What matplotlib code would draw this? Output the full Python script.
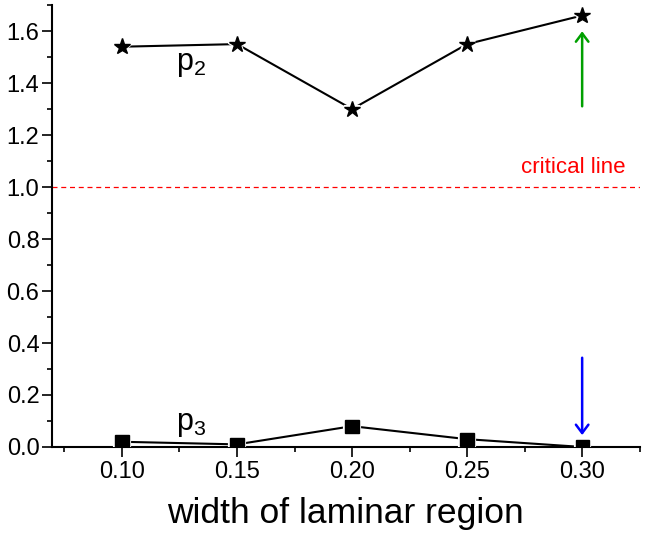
import numpy as np
import matplotlib.pyplot as plt
import matplotlib.patheffects as pe

plt.rcParams['font.family'] = ['Liberation Sans', 'DejaVu Sans']
plt.rcParams['mathtext.fontset'] = 'custom'
plt.rcParams['mathtext.rm'] = 'Liberation Sans'
plt.rcParams['mathtext.it'] = 'Liberation Sans'

# data
width = [0.10, 0.15, 0.20, 0.25, 0.30]
p2 = [1.54, 1.55, 1.30, 1.55, 1.66]
p3 = [0.02, 0.01, 0.08, 0.03, 0.00]
critical = 1.0

fig = plt.figure(figsize=(6.53, 5.33), dpi=100)
ax = fig.add_axes([0.0796, 0.1614, 0.900, 0.829])

# lines first, markers on top with a white halo (gap between line and symbol)
halo = [pe.Stroke(linewidth=3, foreground='white'), pe.Normal()]
ax.plot(width, p2, '-k', lw=1.5, zorder=2)
ax.plot(width, p2, 'k*', ms=12, zorder=3, path_effects=halo)
ax.plot(width, p3, '-k', lw=1.5, zorder=2)
ax.plot(width, p3, 'ks', ms=9.5, zorder=3, path_effects=halo)

ax.axhline(critical, color='red', ls=(0, (4, 3)), lw=0.9, zorder=1)
ax.text(0.296, 1.054, 'critical line', color='red', fontsize=16, ha='center')

ax.text(0.130, 1.45, r'$\mathrm{p_2}$', fontsize=22, ha='center')
ax.text(0.130, 0.065, r'$\mathrm{p_3}$', fontsize=22, ha='center')

ax.annotate('', xy=(width[4], 1.61), xytext=(width[4], 1.30),
            arrowprops=dict(arrowstyle='->,head_length=0.6,head_width=0.45', color='#00a000', lw=1.8))
ax.annotate('', xy=(width[4], 0.035), xytext=(width[4], 0.354),
            arrowprops=dict(arrowstyle='->,head_length=0.6,head_width=0.45', color='blue', lw=1.8))

ax.set_xlim(0.0696, 0.3247)
ax.set_ylim(0, 1.70)
ax.set_xticks([0.10, 0.15, 0.20, 0.25, 0.30])
ax.set_xticks(np.arange(0.075, 0.33, 0.05), minor=True)
ax.set_yticks(np.arange(0, 1.61, 0.2))
ax.set_yticks(np.arange(0.1, 1.71, 0.2), minor=True)
ax.set_yticklabels(['%.1f' % v for v in np.arange(0, 1.61, 0.2)])
ax.set_xticklabels(['%.2f' % v for v in width])

for s in ['top', 'right']:
    ax.spines[s].set_visible(False)
for s in ['left', 'bottom']:
    ax.spines[s].set_linewidth(1.5)
ax.tick_params(which='both', direction='out', width=1.2)
ax.tick_params(which='major', length=7)
ax.tick_params(which='minor', length=3.5)
ax.tick_params(axis='y', labelsize=17, pad=2)
ax.tick_params(axis='x', labelsize=17, pad=3)
ax.set_xlabel('width of laminar region', fontsize=25.5, labelpad=10)

plt.savefig('out.png')
